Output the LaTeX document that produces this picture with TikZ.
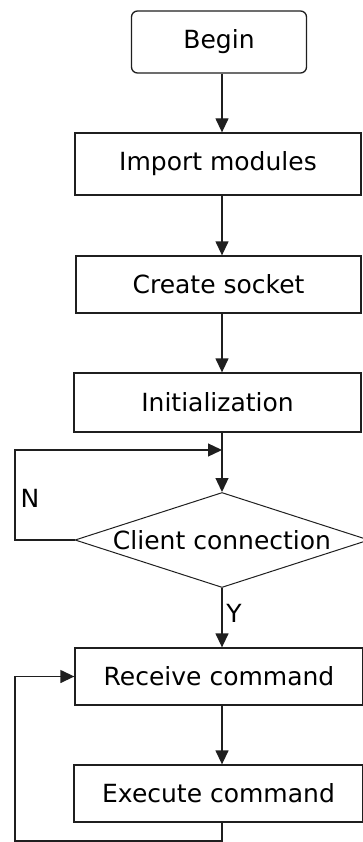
\documentclass[tikz,border=0pt]{standalone}
\usepackage{fontspec}
\setmainfont{DejaVu Sans}
\usetikzlibrary{shapes.geometric,arrows.meta}
\begin{document}
\begin{tikzpicture}[x=1pt,y=-1pt,
  every node/.style={font=\fontsize{25}{30}\selectfont, text=black},
  box/.style={draw=black!88, line width=1.3pt, inner sep=0pt},
  flow/.style={draw=black!88, line width=1.3pt, -{Triangle[width=13pt,length=14pt]}},
  plain/.style={draw=black!88, line width=1.3pt}]
\useasboundingbox (0,0) rectangle (362,842);
\node[box, rounded corners=6pt, minimum width=175pt, minimum height=62pt] (begin) at (219,42) {Begin};
\node[box, minimum width=286pt, minimum height=62pt] (import) at (218,164) {Import modules};
\node[box, minimum width=285pt, minimum height=57pt] (create) at (218.5,284.5) {Create socket};
\node[box, minimum width=287pt, minimum height=59pt] (init) at (217.5,402.5) {Initialization};
\node[box, line width=1pt, diamond, aspect=3.1, minimum width=294pt, minimum height=95pt] (dec) at (222,540) {Client connection};
\node[box, minimum width=288pt, minimum height=57pt] (recv) at (219,676.5) {Receive command};
\node[box, minimum width=289pt, minimum height=57pt] (exec) at (218.5,793.5) {Execute command};
\node (nlab) at (30,498) {N};
\node (ylab) at (234,613) {Y};
\coordinate (ax) at (222,0);
\coordinate (nl) at (15,450);
\coordinate (bl) at (15,841);
\draw[flow] (begin.south -| ax) -- (import.north -| ax);
\draw[flow] (import.south -| ax) -- (create.north -| ax);
\draw[flow] (create.south -| ax) -- (init.north -| ax);
\draw[flow] (init.south -| ax) -- (dec.north);
\draw[flow] (dec.west) -| (nl) -- (nl -| ax);
\draw[flow] (dec.south) -- (recv.north -| ax);
\draw[flow] (recv.south -| ax) -- (exec.north -| ax);
\draw[flow] (exec.south -| ax) |- (bl) |- (recv.west);
\end{tikzpicture}
\end{document}
